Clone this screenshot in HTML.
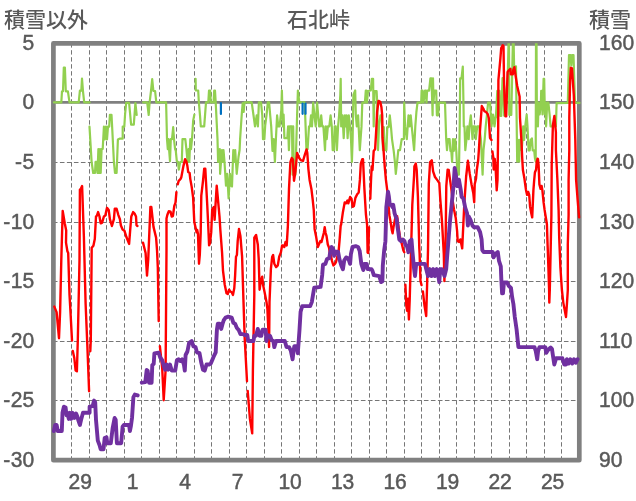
<!DOCTYPE html>
<html><head><meta charset="utf-8"><style>
html,body{margin:0;padding:0;background:#fff;}
body{width:636px;height:501px;overflow:hidden;}
svg{display:block;}
text{font-family:"Liberation Sans","Noto Sans CJK JP",sans-serif;font-size:21px;fill:#595959;}
.n{font-size:22.4px;stroke:#595959;stroke-width:0.5px;}
.jp{font-family:"Noto Sans CJK JP","Liberation Sans",sans-serif;font-weight:500;}
</style></head><body>
<svg width="636" height="501" viewBox="0 0 636 501">
<rect width="636" height="501" fill="#fff"/>
<path d="M71.5 43.2V458M89.5 43.2V458M106.5 43.2V458M124.5 43.2V458M141.5 43.2V458M159.5 43.2V458M176.5 43.2V458M194.5 43.2V458M211.5 43.2V458M229.5 43.2V458M246.5 43.2V458M264.5 43.2V458M281.5 43.2V458M299.5 43.2V458M316.5 43.2V458M334.5 43.2V458M351.5 43.2V458M369.5 43.2V458M386.5 43.2V458M404.5 43.2V458M421.5 43.2V458M439.5 43.2V458M456.5 43.2V458M474.5 43.2V458M491.5 43.2V458M509.5 43.2V458M526.5 43.2V458M544.5 43.2V458M561.5 43.2V458" stroke="#767676" stroke-width="1" stroke-dasharray="4.4 2.6" fill="none"/>
<path d="M52.9 162.5H577M52.9 222.5H577M52.9 281.5H577M52.9 341.5H577M52.9 400.5H577" stroke="#767676" stroke-width="1" stroke-dasharray="4.6 2.4" fill="none"/>
<path d="M55.5 102.4H577.5" stroke="#808080" stroke-width="2.6" fill="none"/>
<rect x="53.4" y="43.4" width="525.9" height="416.8" fill="none" stroke="#808080" stroke-width="4.7" stroke-linejoin="round"/>
<clipPath id="pa"><rect x="52" y="43.2" width="529" height="418"/></clipPath>
<g fill="none" stroke-linejoin="round" stroke-linecap="round" clip-path="url(#pa)">
<polyline points="54,102.4 61.3,102.4 62,91.3 63,91.3 63.8,67.5 64.9,67.5 65.8,91.3 67.9,91.3 69.5,102.4 78.7,102.4 79.9,90.7 81.3,90.7 82,78.6 83,91.3 84.2,102.4 89.6,102.4" stroke="#92D050" stroke-width="2.2" />
<polyline points="89.5,126.7 91.6,161.8 93.2,173 95,173 95.6,161.8 96.9,161.8 97.5,173 98.4,149 99.1,173 100,149 100.7,173 101.6,149 102.7,149 103.9,126.7 104.8,139.5 106,126.7 107,139.5 108,126.7 109.2,126.7 109.9,114.8 111.5,114.8 112.3,130 113.9,161.8 115,173 116.6,173 117.9,139.5 119.5,138.7 122.7,138.7 122.7,126.7 124.3,126.7 125.1,114 126.2,102.8 129.1,102.8 131.1,124.6 133.8,124.6 135.4,103 136.7,115" stroke="#92D050" stroke-width="2.2" />
<polyline points="143.2,102.4 147.2,102.4 148.7,115 149.6,102.6 151,91 152.2,79.1 153.4,91 155.1,91 156.3,102.4 166.1,102.4 167,139.1 167.8,149.2 168.5,139.1 169.2,150.9 170,161.1 170.8,139.1 172,139.1 173.2,127.2 174,139.1 175.1,149.2 175.8,150.9 176.8,161.1 178,162 178.8,169.6 180.2,162 181.8,162 182.5,139.1 185.3,139.1 186.4,149.2 187.6,162 188.6,149.2 189.3,162 190.3,139.1 191,149.2 192,139.1 193.2,120.4 194.4,114.5" stroke="#92D050" stroke-width="2.2" />
<polyline points="195.6,78.8 195.8,90.5 198.2,90.5 198.8,101.5 200,115.3 200.8,126.4 204.2,126.4 206,102.4 208.3,102.4 209,90.7 210.2,90.7 210.8,102.4 213.6,102.4 214.2,90.7 215,90.7 215.7,102.4 217.5,139.1 218.1,161.9 219.2,162 219.8,149.2 220.1,173.8 221,162 222,150 222.8,162 223.5,150 224.5,162 226,185.7 227.2,173.8 228.6,198.4 230,173.8 231.1,185.7 232,186.5 233.3,150 234.5,162 235.2,150 236.7,173.8 238.5,157 239.6,150 240.1,139.1 241,125.5 241.8,113.6 242.7,103 243.7,112 244.5,102.4 251.7,102.4 253.4,114.5 255,126.4 256.7,115.3 257.9,126.4 258.9,102.4 261,102.4 262.3,115.3 263,139.1 264.4,139.1 265.2,125.5 266.5,115.3 267.8,102.4 269.1,102.4 270.2,115.3 271.2,126.4 272.5,150.9 273.7,139.1 274.9,162 275.9,139.1 277.1,115.3 278.3,126.4 279.6,126.4 281.3,110 281.9,90.5 282.4,110 282.8,126.4 283.6,114.5 284.4,138.2 287.3,138.2 288.1,126.4 288.9,150.1 289.8,126.4 292,126.4 292.6,174.7 293.2,126.4 293.8,174.7 294.4,174.5 295.4,174.7 297.1,115.3 297.9,90.5 299.2,101.5 299.6,102.4 304.7,102.4 305.6,126.4 306.4,149.2 307.6,149.2 309,126.4 310,126.4 311,115.3 312,126.4 313.2,102.6 314.4,115.3 315.7,126.4 317.1,102.6 318.2,115.3 319.1,126.4 320,126.4 321.2,115.3 322.2,126.4 323.4,126.4 325,150.1 325.9,126.4 326.7,139.1 327.9,126.4 329.3,126.4 330.6,115.3 331.8,126.4 332.7,150.1 334,150.1 334.7,126.4 335.7,126.4 336.9,150.1 338.1,126.4 339.1,115.3 340.3,95 340.7,78.8 341.2,126.4 342.5,115.3 343.7,138.2 344.9,115.3 345.9,126.4 346.6,115.3 347.6,138.2 348.8,115.3 350,126.4 351,139.1 351.9,162 352.6,140 353.4,95 355.2,90.5 355.8,115 356.8,126.4 358.1,115.3 359.8,150.1 361.5,126.4 362.3,102.6 364.9,102.6 365.8,90.5 366.5,90.5 367,102.6 368,91 370.8,90.5 371.8,78.8 373.1,78.8 373.7,126.4 374.5,91 376.6,91.1 377.2,102.8 378,150.1 379,126.4 380.5,115.3 381.8,115.3 383,150.1 383.8,127.2 384.7,150.1 386.4,150.1 387.3,127.2 388.6,127.2 389.8,115.3 391,127.2 392,139.1 393.7,150.9 394.9,162 395.8,173.8 397.1,162 398.3,150.1 400,150.1 401.7,139.1 403.9,139.1 404.2,102.6 405.1,126.4 406.8,139.1 408.5,115.3 409.6,126.4 410.7,115.3 411.8,127.2 413,139.1 414.1,150.1 415.3,126.4 416.4,112 417.5,102.6 421.2,102.6 421.6,90.6 422.6,90.6 423.5,102.6 425,90.6 425.8,90.6 426.5,102.6 427.1,90.6 429.1,90.6 430.4,78.3 431.5,78.3 432.6,115.3 433,78.3 433.5,102.6 434.3,90.6 436.2,90.6 436.9,115.3 438.2,115.3 438.9,102.6 445,102.6 446.2,139.1 447,150.1 448,139.1 449.6,139.1 450.4,150.9 451.3,150.9 452.1,162 453,139.1 453.8,150.9 455.2,139.1 456.3,150.9 457.5,174.7 458.9,174.7 459.7,126.4 460.2,78.3 461.5,78.3 462.8,66.6 463.5,104.9 463.8,126.4 464.5,126.4 465.3,150.1 466.5,139.1 467.4,126.4 468.7,139.1 469.4,126.4 470.8,115.3 471.6,126.4 472.5,139.1 473.3,126.4 475,126.4 475.8,139.1 477.2,126.4 479.2,126.4 480.9,139.1 482.6,174.7 483.5,150.1 484.7,139.1 485.7,126.4 486.9,115.3 488.1,102.6 490,102.6 491.5,126.4 493,114.5 494.5,126.4 496,114.5 496.7,102.5 497.3,90.9 497.9,118 498.6,90.9 499.6,90.9 500.3,116 501.3,116 502.5,78.2 503.2,78.2 504.2,115.6 505.2,115.6 506.5,90.9 507.7,78.2 508.6,40 509,40 509.3,115 511.3,115 512.9,40 513.6,40 514.1,66.4 516,66.4 516.5,110 517.2,161.6 518,139.9 519.2,161.6 519.9,139.9 521.2,139.9 521.7,150.4 522.5,139.9 523.2,126.4 524.1,139.9 525.2,126.4 526.7,114.5 527.5,126.4 528.6,150.4 529.7,150.4 530.7,139.9 531.9,138.4 532.7,150.4 534.2,150.4 534.9,157.9 535.7,161.6 536,40 536.5,40 536.9,114.5 537.9,126.4 538.6,102.5 539.7,114.5 540.9,102.5 541.2,90.9 541.9,90.9 542.5,114.5 543.6,78.9 544.2,78.9 544.9,114.5 545.4,102.5 546.1,126.4 547.2,102.5 548.4,102.5 549.6,114.5 550.6,126.4 555.9,126.4 556.6,103.2 567.8,102.9 569,55 570.5,55 571.3,65.4 572.3,55 573.5,55 575,102.9 579.5,102.9" stroke="#92D050" stroke-width="2.2" />
<polyline points="220.9,103 220.9,114" stroke="#0070C0" stroke-width="2.2" />
<polyline points="302.6,103.5 302.6,113.8" stroke="#0070C0" stroke-width="2.2" />
<polyline points="305.5,103.5 305.5,113.8" stroke="#0070C0" stroke-width="2.2" />
<polyline points="54.3,306.6 56.6,312.1 59,338.2 60.1,312.1 61.3,260 62.7,210.9 64.8,223.4 66.2,230.4 66,242.6 67.4,251.2 68.2,253 69.5,294.8 70.5,312.1 72,340.6" stroke="#FF0000" stroke-width="2.4" />
<polyline points="72.8,351 74.3,358 75.6,370.5 76.9,371.3 77.8,340 79.5,260 79.9,189.6 81,188.6 82.1,186.1 83.9,237.3 85.6,303.4 87.4,346.9 89.1,391.3" stroke="#FF0000" stroke-width="2.4" />
<polyline points="90.3,351.3 90.8,340 91.7,247.8 93.4,245.7 94.8,239.1 96,216.5 96.9,215.6 98.1,212.1 99.5,216.5 100.7,223.4 102.1,222.6 103.9,216.5 105.3,215.6 107,207.8 108.7,209.9 109.9,219.1 111.9,226 113.9,219.1 114.8,208.7 116.6,208.7 118.3,214.8 119.9,219.1 120.9,225.5 122.6,229.5 124.4,230.7 126.5,237.3 129.1,243.9 130.3,228.7 131.3,216.5 133.1,212.1 134.8,213.9 136,216.5 136.5,225.2 137.4,226" stroke="#FF0000" stroke-width="2.4" />
<polyline points="143,242.6 145.6,253 147,275.6 148.2,260 150.4,206.9 151.3,206.9 153.5,226.9 156.1,237.6 157,249.8 157.8,267.1 158.7,321.1" stroke="#FF0000" stroke-width="2.4" />
<polyline points="159.9,346.3 162.2,368 163.7,400.2 165.6,370 166.5,249.8 166.5,218.5 167.4,214.7 168.8,211.2 170.5,211.6 171.7,216.5 172.9,216.1 174.3,206 175.5,202.6 176.4,192.1" stroke="#FF0000" stroke-width="2.4" />
<polyline points="177.8,184.3 178.7,180.8 180.4,179.1 181.3,177.4 182.1,173 183.4,166.1 185.1,159.1 186.5,161.7 187.4,166.1 188.2,172.1 189.6,173 190.3,179.1 191.7,186.9 193.1,197.3 194.3,222 195.5,227.2 196.6,232.4 197.2,230 198,234.1 199,263.7 199.8,255 200.7,232.4 201.3,195.6 203,180.8 204.2,168.7 205.3,168.7 206,181.7 207.3,206 208.2,225 209.1,245.4 210,243 211.2,232.4 212.2,209.5 213.9,206.9 214.6,219.9 215.5,205 216.7,185.7 218.1,200.8 219.5,216.5 220.4,230.6 222.1,253.2 223,270.6 224.7,284.5 226.5,293.2 227.8,294 229.1,289.7 230.3,291.5 231.7,292.3 233,294.9 234.3,288 235.1,275.8 236,256.7 236.9,255 237.7,241.1 239,228.9 240.4,235.9 242.1,256.7 243.5,301.9 244.7,338.4 246.4,370 247,381.3" stroke="#FF0000" stroke-width="2.4" />
<polyline points="247.7,390.9 249.9,418.7 252.2,433.4 252.9,370 254.3,295 254.3,237.6 256.1,235 257.8,244.5 258.7,258.4 259.6,289.7 260.8,281 262.2,276.7 263,284.5 264.8,293.2 266.5,301.9 267.4,308.9 269.1,347.1 269.5,301.9 270.9,268.9 272.2,256.7 273.1,255 274.3,263.7 276.1,267.1 277.8,265.4 279.2,256.7 280.9,252.4 282.1,245.4 283.2,245.4 284.3,247 285.6,241.9 286.7,245.4 287.9,225.4 289,188.9 290.4,162 291.7,158 292.9,159.5 294,180.8 295.5,171 297.1,153 298.9,157.5 300.7,160.1 303,161 304.8,154.8 306.6,149.4 307.3,153 308.4,169.1 309.6,179.9 311.4,188.9 312.7,199.7 313.8,210.4 314.6,228.9 316,235.9 317.8,247.1 319.1,244 320.4,241.1 321.5,242 322.6,237.6 323.8,233 324.7,227.2 325.6,233 326.5,235.9 327.8,244.5 329,247.5 329.9,253.2 330.8,255 332,261 333.4,265.4 335.1,263.7 336,262 337.7,255 338.6,251.5 339.5,241.1 340.7,225.4 341.1,224.8 342.9,212.2 344.7,202.4 346,203.3 347.4,200.6 348.3,203.3 350.1,197 351.5,198.8 352.7,206.9 353.9,206 355.4,197.9 357.2,194.3 358.7,192.5 359.9,179.9 360.8,163.7 362.3,159.2 363,159.2 364.4,188.9 365.9,214 367.1,224.8 367.6,252.6 368.3,253 369,227.5" stroke="#FF0000" stroke-width="2.4" />
<polyline points="370.3,198.7 371,180.4 371.7,166.2 372.5,170 373.7,150.9 375.1,149.2 376.3,128.9 377.1,112 378.5,100.9 380.2,101.8 381.4,106.9 382.2,115.3 382.5,137.4 383.6,150.9 384.7,166.2 385.9,179.7 387.1,189.1 388.4,204.8 389.4,215.2 390.6,222.1 391.8,230 392.6,233.3 393.5,227 395.3,218 397.1,216.2 398,223.4 399.8,236 401.6,243 403.4,250.4 404.3,252.2" stroke="#FF0000" stroke-width="2.4" />
<polyline points="405.4,284.8 406.3,305.6 407.1,310.8 408,298.7 408.9,319.5 409.7,300 410.6,267.4 412.3,204.8 414.1,175.2 414.4,166.2 415.8,163.6 416.7,170 417.9,196.1 419.3,248.2 419.6,254 420.5,281 421.5,285" stroke="#FF0000" stroke-width="2.4" />
<polyline points="422.9,291.5 424.5,305.6 426.2,316 427.1,284.8 428,250 428.8,183.9 430.1,162 431.8,160.3 433.1,171.3 435,177 437.5,180.4 439.3,183 440.2,198 442,221.6 443.8,254 444.4,281 445.5,250 446.3,186 447.6,169.8 448.7,170 449.9,178.8 451.2,187.8 452.6,200.4 454,209.4 455.8,218.3 457.1,231 457.7,241.2 459.1,242 460.4,239.4 461.5,245 462.2,248.4 462.6,240 464.3,204 466.1,177 467.9,160.8 469.7,173.4 471.5,184.2 473.3,193.2 474.2,202.2 474.7,184.2 476,178.8 476.8,170 478.2,160 479.2,145 480.1,128.9 481.8,106 483.3,108.5 484.3,111.1 486,112 487.7,114 488.8,118 490,138 491.5,140" stroke="#FF0000" stroke-width="2.4" />
<polyline points="492.4,151.5 493.3,157.5 493.7,169.5 494.8,159 495.7,169.5 496.7,190.4 497.5,180 498.2,128 498.4,80 500.4,58.4 501.2,48 502.8,45.2 503.5,46 504,80 504.6,100 505.5,116.4 506.2,116.4 507,90 507.6,72 508.2,71 510.4,68.8 510.8,74.4 512.8,74.4 513.3,70 514.4,67.2 515.5,75 517.2,86 519.6,96.4 520,118 521.4,140 522.2,158 522.9,170 524.4,178.4 525.2,184.4 526,190 527.1,194.9 528.2,191.9 529.2,194.9 530.1,206.9 531.2,212.9 532.2,217.4 533.4,190.4 534.2,180 534.9,172.5 536.1,169.5 536.7,162 537.6,158.6 537.9,159 538.6,165 539.4,184.4 540.6,188.9 541.6,185.9 542.4,190.4 543.6,202.4 544.6,209.9 545.4,215 546.9,224 547.6,245 548.4,267.4 549.1,290 549.3,302.6 549.8,290 550.6,252.4 551.4,215 551.7,165 552.9,125 554.4,116 555.9,132.4 555.9,150 557.4,180 558.6,209.9 559.2,237.5 560.4,267.4 561.9,290 563.3,302.6 566,317 566.9,304.4 567.8,290 567.8,245 568.6,215 568.6,180 569.3,150 569.3,117.5 570.1,80.4 570.8,67.7 572,68.4 573.1,84.9 573.8,95 575.3,139.9 576.1,180 577.6,199.4 579.1,217.4" stroke="#FF0000" stroke-width="2.4" />
<polyline points="53.8,431 55.2,425 56.6,425 57.8,431 61.8,431 62.5,412.8 63.9,406.7 65.6,407.5 66.5,415.4 67.4,412.8 68.8,418.9 70,412.8 71.2,418.9 72.6,412.8 74.3,418 76.1,413.5 77.5,417 78.2,419.8 79.9,425 81.3,418.9 83,412.8 89.6,412.8 89.6,406.7 92.6,406.2 94,400.6 95.2,402.4 96,419.8 97.8,440.6 99.5,445 100.7,449.3 103.5,449.3 104.7,438 106.5,437.2 107.3,443.2 110.8,443.2 112.6,428.4 114.6,418 115.7,419.8 116.9,443.2 121.2,443.2 122.6,426.7 123.8,425 129.1,425 129.9,431 130.8,426.7 132,418 133.4,397.2 134.8,394.6 137.7,395.4" stroke="#7030A0" stroke-width="3.9" />
<polyline points="141.8,382.7 145.3,382 146.7,370 147.7,370.8 149.1,382.7 151.6,382.7 152.3,365.2 153.7,363.8 154.4,353.3 158.6,352.6 160.2,357.5 162.2,360.2 163.9,366.2 165.2,369.7 166.5,364.5 168.2,369.7 170,364.5 171.7,370.6 175.2,370.6 176.9,360.2 178.7,359.3 180.4,361 182.1,359.3 183.9,364.5 184.8,370.6 185.6,355 187.4,351.5 189.1,342.8 191.7,341 193.4,346.3 195.5,347 196.9,352.3 199.5,353.2 201.3,362.8 203,369.7 204.7,370.6 206.5,364.5 209.1,364.5 210.8,363.6 212.6,359.3 214,355.8 215.7,352.3 216.9,329.8 217.8,323.7 219.5,323.7 221.2,328.9 222.6,323.7 223.8,320.2 225.6,317.6 228.2,316.7 231.7,317.6 233.4,322.8 235.1,323.7 236.9,328 238.6,329.8 240.4,334.1 243,334.1 244.7,335 247.3,335 248.2,341 253.5,341 254.3,335.8 256,335.8 257.8,328.9 259.6,335.8 261.3,335.8 262.5,329.8 265.6,329.8 266.5,341 267.4,335 270,335.8 271.7,340.2 273.4,341 274.3,347.1 276.1,341 284.8,341 286.5,347.1 289.1,347.1 290.8,350.6 292.6,359.3 293.4,352.3 294.3,346.3 296.9,346.3 297.8,353.2 299.5,329.8 300.6,311.7 302.2,306.1 310.2,306.1 311.8,302.1 314.2,287.7 320.6,286.9 322.2,274.9 323,264.6 325.4,263.8 327,259 329.3,258.2 330.1,252.6 331.7,247 333.3,249.4 334.1,255.8 335.7,251.8 338.1,251.8 339.4,259 341.3,265.4 342.9,269.3 344.2,260.6 346.1,257.4 348.2,258.2 350.1,263.8 350.9,254.2 352.5,247 355.7,246.2 358.1,247 359.7,251 361.3,263.8 362.9,268.5 363.3,270 364,263.9 366.8,263.9 367.5,269.1 371.5,269.1 372.5,271 373.8,275.2 379.3,276.1 381.1,282.1 382.4,281.3 382.8,265.6 384.2,250 385.4,241.4 385.9,223.9 386.3,207.2 386.6,204.8 388,191.7 388.8,196 389.8,204.8 391.5,204.8 392.4,207 393.2,204.8 394.6,213.4 395.8,216.9 396.6,218.6 397.6,227.3 398.4,232.6 399.3,239.5 401,241.2 402.8,239.5 404.5,241.2 405.4,244.7 407.1,246.5 408.4,252.2 409.7,241.4 411.5,239.6 412.3,250 414.1,269.1 415,276.1 416.2,263.9 425,263.9 426.2,269.1 428,276.1 429.7,269.1 431.5,276.1 433.2,269.1 434.9,276.1 436.7,269.1 438.4,276.1 439.3,282.1 440.2,269.1 441.9,269.1 444.5,276.1 446.2,269.1 447.1,257 448.1,245 449.9,222 451.7,204 453.5,186 454.7,168 455.8,174 457.1,186 458.9,179.7 460.7,189.6 461.6,196.8 463.4,198.6 465.2,207.6 467,213 467.9,225.5 468.8,216.5 470.6,220.1 472.4,225.5 474.2,227.3 477.8,227.3 480.1,232.2 481.6,239.4 482.3,250.1 483.7,252 492.7,252 493.6,257.3 495.5,254 497.8,252 499,260.9 500.8,266.3 501.3,278.9 502.1,293.3 503,293.3 503.9,282.5 507.1,282.5 508.9,286.1 511,287.9 512.1,296.9 513.4,304 514.8,317 516.6,329.5 518.4,347.1 534.5,347.1 535.7,351 537.2,359.2 538.1,351 539.5,347.1 545.3,347.1 546.2,352.9 548,350 550.7,347.5 552,349 552.8,354.7 554.3,364.5 556.1,358.3 562.4,358.3 564.2,364.5 566,364.5 566.9,359.2 568.6,363.6 570.4,359.2 572.2,363.6 574,359.2 575.8,362.8 577.6,359.2" stroke="#7030A0" stroke-width="3.9" />
</g>
<text class="n" transform="translate(34.2 49.8) scale(0.94 1)" text-anchor="end">5</text>
<text class="n" transform="translate(34.2 109.4) scale(0.94 1)" text-anchor="end">0</text>
<text class="n" transform="translate(34.2 168.9) scale(0.94 1)" text-anchor="end">-<tspan dx="0.6">5</tspan></text>
<text class="n" transform="translate(34.2 228.5) scale(0.94 1)" text-anchor="end">-<tspan dx="0.6">10</tspan></text>
<text class="n" transform="translate(34.2 288.1) scale(0.94 1)" text-anchor="end">-<tspan dx="0.6">15</tspan></text>
<text class="n" transform="translate(34.2 347.7) scale(0.94 1)" text-anchor="end">-<tspan dx="0.6">20</tspan></text>
<text class="n" transform="translate(34.2 407.2) scale(0.94 1)" text-anchor="end">-<tspan dx="0.6">25</tspan></text>
<text class="n" transform="translate(34.2 466.8) scale(0.94 1)" text-anchor="end">-<tspan dx="0.6">30</tspan></text>
<text class="n" transform="translate(599 49.8) scale(0.94 1)">160</text>
<text class="n" transform="translate(599 109.4) scale(0.94 1)">150</text>
<text class="n" transform="translate(599 168.9) scale(0.94 1)">140</text>
<text class="n" transform="translate(599 228.5) scale(0.94 1)">130</text>
<text class="n" transform="translate(599 288.1) scale(0.94 1)">120</text>
<text class="n" transform="translate(599 347.7) scale(0.94 1)">110</text>
<text class="n" transform="translate(599 407.2) scale(0.94 1)">100</text>
<text class="n" transform="translate(599 466.8) scale(0.94 1)">90</text>
<text class="n" transform="translate(80.2 488.8) scale(0.94 1)" text-anchor="middle">29</text>
<text class="n" transform="translate(132.7 488.8) scale(0.94 1)" text-anchor="middle">1</text>
<text class="n" transform="translate(185.2 488.8) scale(0.94 1)" text-anchor="middle">4</text>
<text class="n" transform="translate(237.7 488.8) scale(0.94 1)" text-anchor="middle">7</text>
<text class="n" transform="translate(290.1 488.8) scale(0.94 1)" text-anchor="middle">10</text>
<text class="n" transform="translate(342.6 488.8) scale(0.94 1)" text-anchor="middle">13</text>
<text class="n" transform="translate(395.1 488.8) scale(0.94 1)" text-anchor="middle">16</text>
<text class="n" transform="translate(447.6 488.8) scale(0.94 1)" text-anchor="middle">19</text>
<text class="n" transform="translate(500.1 488.8) scale(0.94 1)" text-anchor="middle">22</text>
<text class="n" transform="translate(552.6 488.8) scale(0.94 1)" text-anchor="middle">25</text>
<text class="jp" x="4" y="27">積雪以外</text>
<text class="jp" x="318.4" y="27" text-anchor="middle">石北峠</text>
<text class="jp" x="589" y="27">積雪</text>
</svg>
</body></html>
